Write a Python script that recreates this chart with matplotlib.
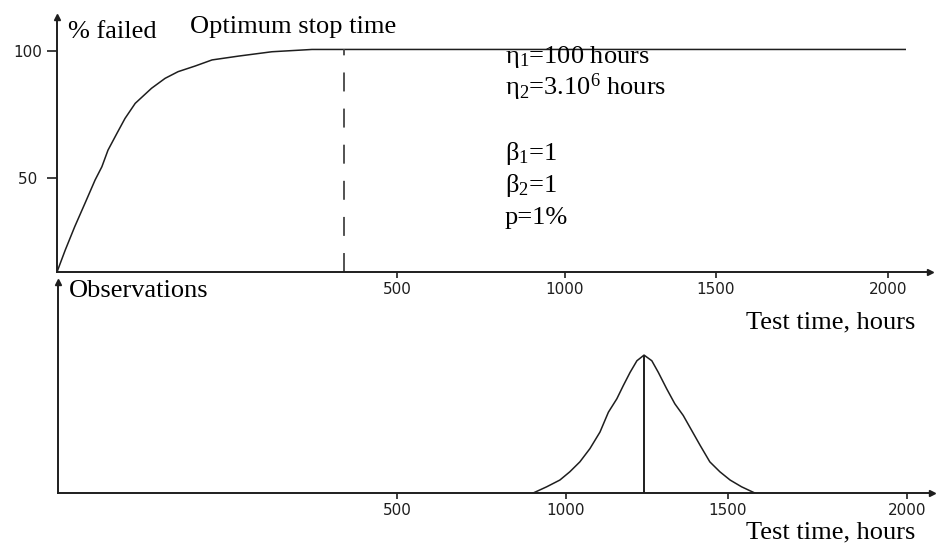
import numpy as np
import matplotlib
matplotlib.use("Agg")
from matplotlib import pyplot as plt

plt.rcParams['font.family'] = ['Liberation Serif', 'DejaVu Serif']

fail_hours = [0, 12, 26, 41, 56, 66, 75, 88, 100, 115, 139, 159, 178, 203,
              228, 267, 316, 375, 2050]
fail_pct = [13.4, 21.9, 31.1, 40.2, 49.4, 54.6, 61.1, 67.6, 73.5, 79.4, 85.3,
            89.2, 91.8, 94.0, 96.4, 97.9, 99.6, 100.5, 100.5]
stop_time = 422

obs_hours = [903, 943, 982, 1012, 1043, 1074, 1105, 1131, 1157, 1177, 1198,
             1219, 1241, 1265, 1285, 1311, 1336, 1362, 1388, 1414, 1444, 1475,
             1506, 1538, 1575]
obs_level = [0, 4.5, 9.4, 15.4, 22.6, 32.2, 44.2, 58.6, 68.3, 77.9, 87.5,
             95.9, 100, 95.9, 87.5, 75.5, 64.7, 56.2, 45.4, 34.6, 22.6, 15.4,
             9.4, 4.5, 0]
peak_time = 1241

x_ticks = [500, 1000, 1500, 2000]
x_labels = ['500', '1000', '1500', '2000']
y_ticks = [50, 100]
y_labels = ['50 ', '100']

params = [r'$\mathregular{η_1}$=100 hours',
          r'$\mathregular{η_2}$=3.10$\mathregular{^6}$ hours',
          '',
          r'$\mathregular{β_1}$=1',
          r'$\mathregular{β_2}$=1',
          'p=1%']

W, H = 938, 543
INK = '#1e1e1e'


def px_rect(x0, y0, x1, y1):
    return [x0 / W, 1 - y1 / H, (x1 - x0) / W, (y1 - y0) / H]


def hand_scale(px):
    # the hand drawn time axis is not evenly spaced
    hrs = [-500, 0, 500, 1000, 1500, 2000, 2500]
    return (lambda v: np.interp(v, hrs, px),
            lambda v: np.interp(v, px, hrs))


def style(ax):
    ax.patch.set_visible(False)
    for s in ['top', 'right']:
        ax.spines[s].set_visible(False)
    for s in ['left', 'bottom']:
        ax.spines[s].set_linewidth(1.4)
        ax.spines[s].set_color(INK)
    ax.plot(1, 0, '>', color=INK, ms=5, transform=ax.transAxes, clip_on=False)
    ax.plot(0, 1, '^', color=INK, ms=4, transform=ax.transAxes, clip_on=False)
    ax.set_xticks(x_ticks)
    ax.set_xticklabels(x_labels)
    ax.tick_params(axis='x', direction='out', length=4, width=1.2, color=INK,
                   pad=3, labelsize=11, labelcolor=INK,
                   labelfontfamily='DejaVu Sans')


fig = plt.figure(figsize=(9.38, 5.43), dpi=100)

# top panel
ax1 = fig.add_axes(px_rect(57, 17, 930, 272))
ax1.set_xscale('function', functions=hand_scale([-283, 57, 397, 565, 716, 888, 1060]))
ax1.set_xlim(0, 2122)
ax1.set_ylim(13.4, 113.2)
ax1.plot(fail_hours, fail_pct, color=INK, lw=1.1)
ax1.vlines(stop_time, 13.4, 100.5, colors='#444444', lw=1.3,
           linestyles=(0, (10.5, 9.5)))
style(ax1)
ax1.set_yticks(y_ticks)
ax1.set_yticklabels(y_labels)
ax1.tick_params(axis='y', direction='out', length=7, width=1.2, color=INK,
                pad=3.5, labelsize=11, labelcolor=INK,
                labelfontfamily='DejaVu Sans')

# bottom panel
ax2 = fig.add_axes(px_rect(58, 282, 932, 493))
ax2.set_xscale('function', functions=hand_scale([-282, 58, 397, 566, 728, 907, 1086]))
ax2.set_xlim(0, 2070)
ax2.set_ylim(0, 153)
ax2.plot(obs_hours, obs_level, color=INK, lw=1.1)
ax2.vlines(peak_time, 0, 100, colors=INK, lw=1.4)
style(ax2)
ax2.set_yticks([])

fs = 19
fig.text(68 / W, 1 - 38 / H, '% failed', fontsize=fs, va='baseline')
fig.text(190 / W, 1 - 33 / H, 'Optimum stop time', fontsize=fs, va='baseline')
for i, line in enumerate(params):
    fig.text(505 / W, 1 - (63 + 32.2 * i) / H, line, fontsize=fs, va='baseline')
fig.text(915 / W, 1 - 328 / H, 'Test time, hours', fontsize=fs,
         va='baseline', ha='right')
fig.text(69 / W, 1 - 297 / H, 'Observations', fontsize=fs, va='baseline')
fig.text(915 / W, 1 - 538 / H, 'Test time, hours', fontsize=fs,
         va='baseline', ha='right')

fig.savefig('out.png', dpi=100)
